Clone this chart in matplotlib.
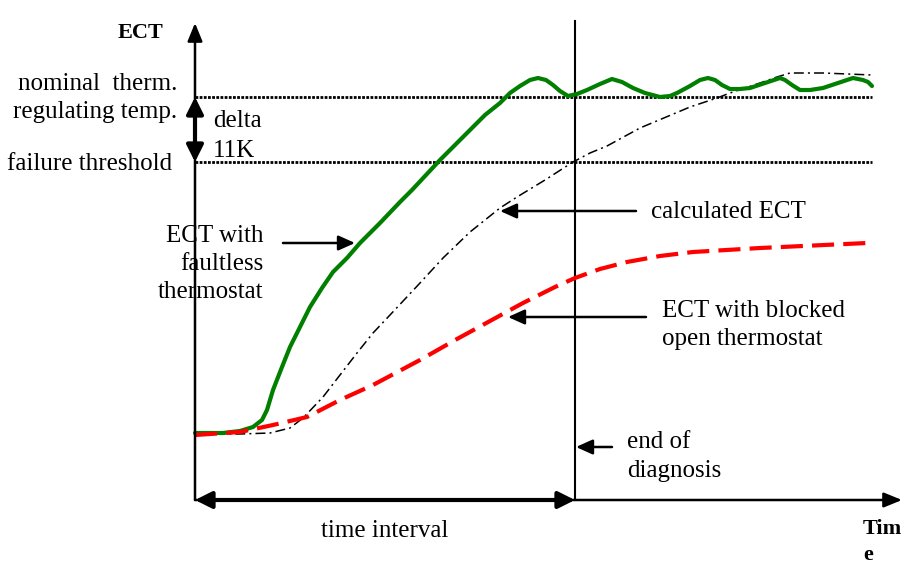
import matplotlib
matplotlib.use("Agg")
import matplotlib.pyplot as plt

plt.rcParams['font.family'] = ['Liberation Serif', 'DejaVu Serif']

# ---- data (schematic: time units, ECT units) ----
green_t = [0, 28, 45, 58, 67, 72, 78, 87, 95, 105, 115, 127, 138, 152, 165,
           185, 205, 217, 245, 275, 290, 305, 315, 325, 335, 343, 351, 358, 365, 373,
           382, 392, 405, 417, 427, 438, 450, 465, 475, 482, 495, 505, 513, 520, 527,
           535, 545, 555, 570, 585, 590, 597, 605, 615, 628, 643, 658, 668, 673, 677]
green_ect = [67, 67, 69, 73, 80, 90, 110, 133, 153, 173, 193, 212, 228, 242, 257,
             277, 298, 310, 340, 370, 385, 397, 407, 414, 420, 422, 420, 415, 409, 404,
             406, 410, 416, 421, 418, 412, 407, 403, 404, 407, 414, 420, 422, 420, 415,
             411, 411, 412, 417, 422, 420, 415, 410, 410, 412, 417, 422, 420, 418, 414]

calc_t = [0, 45, 75, 95, 108, 128, 145, 162, 178, 195, 225, 248, 275, 305, 322,
          350, 378, 395, 412, 445, 495, 522, 535, 565, 582, 595, 628, 677]
calc_ect = [66, 66, 67, 72, 82, 103, 125, 147, 167, 185, 217, 242, 268, 292, 303,
            320, 338, 347, 354, 372, 393, 402, 407, 417, 423, 427, 427, 425]

blocked_t = [0, 45, 78, 112, 145, 178, 225, 262, 295, 328, 360, 380, 405, 432,
             465, 498, 565, 672]
blocked_ect = [65, 68, 75, 83, 100, 115, 140, 161, 179, 197, 213, 222, 231, 238,
               244, 248, 252, 257]

nominal_ect = 403
failure_ect = 338
end_diag_t = 380
line_end_t = 677
axis_top = 477
axis_right = 707

fig = plt.figure(figsize=(9.14, 5.81), dpi=100)
ax = fig.add_axes([0, 0, 1, 1])
ax.set_xlim(-195, 719)
ax.set_ylim(-81, 500)
ax.axis('off')

FS = 18

def arrow(tail, tip, lw=1.8, hl=10, hw=4.5, style='-|>'):
    ax.annotate('', xy=tip, xytext=tail,
                arrowprops=dict(arrowstyle=f'{style},head_length={hl},head_width={hw}',
                                lw=lw, color='black', shrinkA=0, shrinkB=0,
                                mutation_scale=1))

# reference dotted lines
for lvl in (nominal_ect, failure_ect):
    ax.plot([0, line_end_t], [lvl, lvl], color='black', lw=2.0,
            linestyle=(0, (1.0, 0.5)))

# axes
arrow((0, 0), (0, axis_top), lw=1.8, hl=11, hw=4.5)
arrow((0, 0), (axis_right, 0), lw=1.8, hl=11, hw=4.5)
ax.plot([end_diag_t, end_diag_t], [0, axis_top + 2], color='black', lw=1.5)

# time interval and delta double arrows
arrow((0, 0), (end_diag_t, 0), lw=3, hl=10, hw=5, style='<|-|>')
arrow((0, failure_ect), (0, nominal_ect), lw=3, hl=10, hw=5, style='<|-|>')

# curves
ax.plot(calc_t, calc_ect, color='black', lw=1.1,
        linestyle=(0, (6.5, 2.7, 1.3, 2.7)))
ax.plot(green_t, green_ect, color='#007f00', lw=3, solid_joinstyle='round',
        solid_capstyle='round')
ax.plot(blocked_t, blocked_ect, color='#ff0000', lw=3, linestyle=(0, (5.3, 2.2)))

# pointer arrows
arrow((88, 257), (160, 257))
arrow((441, 289), (305, 289))
arrow((451, 183), (313, 183))
arrow((417, 53), (381, 53))

# texts
ax.text(-32, 462, 'ECT', fontsize=16, fontweight='bold', ha='right', va='baseline')
ax.text(-18, 410, 'nominal  therm.', fontsize=FS, ha='right', va='baseline')
ax.text(-18, 382, 'regulating temp.', fontsize=FS, ha='right', va='baseline')
ax.text(-23, 330, 'failure threshold', fontsize=FS, ha='right', va='baseline')
ax.text(18, 373, 'delta', fontsize=FS, ha='left', va='baseline')
ax.text(18, 343, '11K', fontsize=FS, ha='left', va='baseline')
ax.text(68, 258, 'ECT with', fontsize=FS, ha='right', va='baseline')
ax.text(68, 230, 'faultless', fontsize=FS, ha='right', va='baseline')
ax.text(68, 202, 'thermostat', fontsize=FS, ha='right', va='baseline')
ax.text(456, 282, 'calculated ECT', fontsize=FS, ha='left', va='baseline')
ax.text(467, 183, 'ECT with blocked', fontsize=FS, ha='left', va='baseline')
ax.text(467, 155, 'open thermostat', fontsize=FS, ha='left', va='baseline')
ax.text(432, 52, 'end of', fontsize=FS, ha='left', va='baseline')
ax.text(432, 23, 'diagnosis', fontsize=FS, ha='left', va='baseline')
ax.text(190, -37, 'time interval', fontsize=FS, ha='center', va='baseline')
ax.text(668, -34, 'Tim', fontsize=16, fontweight='bold', ha='left', va='baseline')
ax.text(668, -60, 'e', fontsize=16, fontweight='bold', ha='left', va='baseline')

fig.savefig('out.png', dpi=100)
